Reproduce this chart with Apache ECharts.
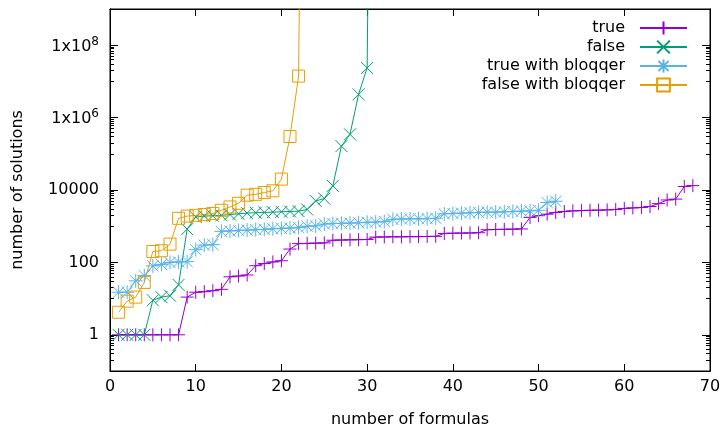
<!DOCTYPE html>
<html>
<head>
<meta charset="utf-8">
<script src="https://cdn.jsdelivr.net/npm/echarts@6/dist/echarts.min.js"></script>
<style>
  html, body { margin: 0; padding: 0; background: #fff; }
  #chart { width: 721px; height: 428px; }
</style>
</head>
<body>
<div id="chart"></div>
<script>
// cactus data: sorted number of solutions per formula (x = formula count)
const trueVals = [1, 1, 1, 1, 1, 1, 1, 1, 11, 15, 15.5, 16.5, 18, 40, 42, 45, 81, 93, 103, 111, 234,
  330, 335, 340, 345, 410, 415, 420, 425, 430, 500, 505, 510, 510, 515, 515, 520, 525,
  630, 640, 645, 650, 660, 800, 810, 820, 830, 840,
  1750, 1950, 2150, 2400, 2550, 2650, 2700, 2750, 2780, 2820, 2900, 3100, 3200, 3300, 3500, 4200,
  5300, 5600, 12500, 13200]
const falseVals = [1, 1, 1, 1, 9, 11, 12, 24, 830,
  1800, 1900, 1950, 2000, 2100, 2200, 2300, 2350, 2400, 2450, 2500, 2550, 2600, 2900,
  5000, 5800, 13000, 163000, 345000, 4.4e6, 2.35e7, 1e30]
const trueBloqqerVals = [15, 15, 31, 43, 80, 88, 100, 103, 105, 225, 300, 310,
  720, 740, 760, 780, 800, 820, 850, 870, 890, 920, 1000, 1020,
  1150, 1180, 1200, 1220, 1250, 1280, 1300, 1350, 1550, 1580, 1600, 1600, 1620, 1650,
  2200, 2250, 2300, 2350, 2400, 2450, 2450, 2500, 2550, 2600, 2650, 2750, 4500, 4900]
const falseBloqqerVals = [4.2, 8.5, 11, 28, 200, 210, 320, 1650, 1900, 2000, 2100, 2250, 2750, 3400, 4300,
  7200, 7600, 8500, 9500, 20000, 300000, 1.4e7, 1e30]

const seriesNames = ['true', 'false', 'true with bloqqer', 'false with bloqqer']
const yMajor = [1, 100, 10000, 1e6, 1e8]
const xTicks = [0, 10, 20, 30, 40, 50, 60, 70]

// gnuplot style minor ticks on the log axis: k * 10^odd
const yMinor = []
;[-1, 1, 3, 5, 7].forEach(e => {
  for (let k = 1; k <= 9; k++) yMinor.push(k * Math.pow(10, e))
})
yMinor.push(1e9)

const FONT = 'DejaVu Sans'
const black = '#000'

const PLUS = 'path://M0,5L10,5M5,0L5,10'
const CROSS = 'path://M0,0L10,10M10,0L0,10'
const STAR = 'path://M0,5L10,5M5,0L5,10M1,1L9,9M9,1L1,9'

function mk(name, vals, color, symbol, size, fill) {
  return {
    name,
    type: 'line',
    data: vals.map((v, i) => [i + 1, v]),
    symbol,
    symbolSize: size,
    showAllSymbol: true,
    clip: true,
    lineStyle: { color, width: 1 },
    itemStyle: { color: fill || color, borderColor: color, borderWidth: 1 },
    emphasis: { disabled: true }
  }
}

function yAx(pos, major) {
  return {
    type: 'log',
    logBase: 10,
    min: 0.1,
    max: 1e9,
    position: pos,
    axisLine: { show: true, lineStyle: { color: black, width: 1 } },
    axisTick: {
      show: true, inside: true, length: major ? 8 : 4,
      customValues: major ? yMajor : yMinor,
      lineStyle: { color: black, width: 1 }
    },
    axisLabel: {
      show: major && pos === 'left',
      customValues: yMajor,
      margin: 11,
      color: black,
      fontSize: 16,
      fontFamily: FONT,
      formatter: v => v < 1e5 ? String(v) : '{b|1x10}{s|' + Math.round(Math.log10(v)) + '}',
      rich: {
        b: { fontSize: 16, fontFamily: FONT, color: black, verticalAlign: 'bottom' },
        s: { fontSize: 12, fontFamily: FONT, color: black, verticalAlign: 'bottom', padding: [0, 0, 7, 0] }
      }
    },
    splitLine: { show: false },
    name: major && pos === 'left' ? 'number of solutions' : '',
    nameLocation: 'middle',
    nameGap: 84,
    nameTextStyle: { fontSize: 16, fontFamily: FONT, color: black }
  }
}

function xAx(pos) {
  return {
    type: 'value',
    min: xTicks[0],
    max: xTicks[xTicks.length - 1],
    interval: 10,
    position: pos,
    axisLine: { show: true, lineStyle: { color: black, width: 1 } },
    axisTick: { show: true, inside: true, length: 7, lineStyle: { color: black, width: 1 } },
    axisLabel: { show: pos === 'bottom', margin: 8, color: black, fontSize: 16, fontFamily: FONT },
    splitLine: { show: false },
    name: pos === 'bottom' ? 'number of formulas' : '',
    nameLocation: 'middle',
    nameGap: 41,
    nameTextStyle: { fontSize: 16, fontFamily: FONT, color: black }
  }
}

const chart = echarts.init(document.getElementById('chart'), null, { renderer: 'canvas' })
chart.setOption({
  animation: false,
  backgroundColor: '#fff',
  textStyle: { fontFamily: FONT },
  grid: {
    left: 110, right: 11, top: 9, bottom: 57,
    outerBoundsMode: 'none', containLabel: false,
    show: true, borderColor: black, borderWidth: 1
  },
  legend: {
    orient: 'vertical',
    right: 28,
    top: 15,
    align: 'right',
    itemWidth: 47,
    itemHeight: 16,
    itemGap: 3,
    selectedMode: false,
    data: seriesNames,
    textStyle: { fontSize: 16, fontFamily: FONT, color: black, padding: [0, 10, 0, 0] }
  },
  xAxis: [xAx('bottom'), xAx('top')],
  yAxis: [yAx('left', true), yAx('left', false), yAx('right', true), yAx('right', false)],
  series: [
    mk(seriesNames[0], trueVals, '#9400D3', PLUS, 13),
    mk(seriesNames[1], falseVals, '#009E73', CROSS, 12),
    mk(seriesNames[2], trueBloqqerVals, '#56B4E9', STAR, 14),
    mk(seriesNames[3], falseBloqqerVals, '#E69F00', 'rect', 12, 'rgba(0,0,0,0)')
  ]
})
</script>
</body>
</html>
